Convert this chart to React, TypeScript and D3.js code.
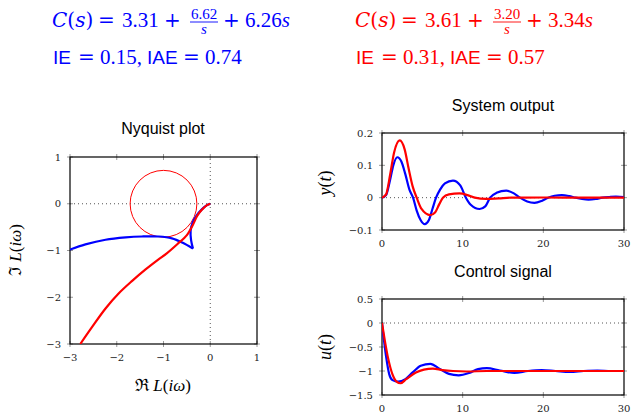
import React from 'react'
import * as d3 from 'd3'

const BLUE = '#0000ff'
const RED = '#ff0000'
const SERIF = "'Liberation Serif','DejaVu Serif',serif"
const WIDESERIF = "'DejaVu Serif',serif"
const TICKFONT = "'DejaVu Serif',serif"
const SANS = "'Liberation Sans',Arial,sans-serif"

// controller parameters shown in the header
const blueGains = ['3.31', '6.62', '6.26']
const redGains = ['3.61', '3.20', '3.34']
const blueErr = ['0.15,', '0.74']
const redErr = ['0.31,', '0.57']

// Nyquist curves [Re, Im]
const nyqBlueOuter: [number, number][] = [
  [-3, -0.98], [-2.67, -0.87], [-2.24, -0.77], [-1.81, -0.72], [-1.46, -0.7],
  [-1.1, -0.7], [-0.82, -0.74], [-0.6, -0.83], [-0.37, -0.96],
]
const nyqBlueInner: [number, number][] = [
  [-0.37, -0.96], [-0.41, -0.78], [-0.42, -0.58], [-0.38, -0.41], [-0.29, -0.25],
  [-0.18, -0.12], [-0.07, -0.03], [0, 0],
]
const nyqRed: [number, number][] = [
  [-2.78, -3.0], [-2.53, -2.64], [-2.24, -2.24], [-1.96, -1.92], [-1.67, -1.65],
  [-1.39, -1.41], [-1.12, -1.2], [-0.93, -1.06], [-0.7, -0.86], [-0.5, -0.67],
  [-0.37, -0.45], [-0.28, -0.26], [-0.18, -0.13], [-0.07, -0.03], [0, 0],
]
const msCircle = { re: -1, im: 0, r: 0.714 }

// system output y(t)
const yBlue: [number, number][] = [
  [0, 0], [0.5, 0.008], [1.0, 0.055], [1.4, 0.1], [1.9, 0.125], [2.4, 0.112],
  [2.9, 0.072], [3.4, 0.025], [3.85, 0], [4.3, -0.04], [4.8, -0.07], [5.3, -0.082],
  [5.8, -0.07], [6.25, -0.035], [6.7, 0], [7.2, 0.025], [7.8, 0.044], [8.8, 0.053],
  [9.7, 0.038], [10.4, 0], [11.0, -0.022], [12.1, -0.035], [12.8, -0.027], [13.4, 0],
  [14.2, 0.015], [15.4, 0.022], [16.3, 0.014], [17.1, 0], [18, -0.012], [18.9, -0.016],
  [19.8, -0.01], [20.6, 0], [21.4, 0.006], [22.3, 0.008], [23.2, 0.005], [24, 0],
  [24.8, -0.004], [25.6, -0.006], [26.5, -0.004], [27.3, 0], [28.2, 0.002], [29, 0.003],
  [30, 0.002],
]
const yRed: [number, number][] = [
  [0, 0], [0.5, 0.01], [1.0, 0.07], [1.5, 0.14], [2.2, 0.177], [2.8, 0.15],
  [3.3, 0.09], [3.8, 0.035], [4.3, 0], [4.9, -0.035], [5.97, -0.054], [6.6, -0.045],
  [7.1, -0.02], [7.55, 0], [8.3, 0.01], [9.6, 0.013], [10.6, 0.008], [11.5, 0],
  [12.9, -0.004], [14.5, -0.002], [16, 0], [20, 0.0005], [25, 0], [30, 0],
]

// control signal u(t)
const uBlue: [number, number][] = [
  [0, 0], [0.5, -0.69], [0.9, -1.07], [1.3, -1.19], [2.0, -1.22], [2.9, -1.17],
  [3.8, -1.03], [4.8, -0.89], [6.0, -0.85], [7.1, -0.95], [8.3, -1.06], [9.5, -1.09],
  [10.8, -1.04], [11.9, -0.96], [13.0, -0.94], [14.6, -0.99], [16.4, -1.04],
  [18.1, -1.0], [19.8, -0.98], [21.5, -1.0], [23.3, -1.02], [25, -1.0], [26.7, -0.99],
  [28.4, -1.0], [30, -1.0],
]
const uRed: [number, number][] = [
  [0, 0], [0.7, -0.69], [1.3, -1.07], [1.8, -1.22], [2.3, -1.255], [3.0, -1.17],
  [4.2, -1.03], [5.2, -0.97], [6.3, -0.95], [7.5, -0.98], [8.8, -1.0], [10.5, -1.01],
  [13, -1.0], [30, -1.0],
]

const nyqTicks = [-3, -2, -1, 0, 1]
const tTicks = [0, 10, 20, 30]
const yTicks = [-0.1, 0, 0.1, 0.2]
const uTicks = [-1.5, -1, -0.5, 0, 0.5]

const fmt = (v: number) => d3.format('')(v)

function Frame({ x, y, xTicks, yTicks, hDot, vDot }: any) {
  const [x0, x1] = x.range()
  const [y0, y1] = y.range()
  return (
    <g>
      {hDot && <line x1={x0} x2={x1} y1={y(0)} y2={y(0)} stroke="#555" strokeDasharray="1,3" />}
      {vDot && <line x1={x(0)} x2={x(0)} y1={y0} y2={y1} stroke="#555" strokeDasharray="1,3" />}
      {xTicks.map((t: number) => (
        <g key={'x' + t}>
          <line x1={x(t)} x2={x(t)} y1={y0 - 3} y2={y0 + 3} stroke="#999" />
          <line x1={x(t)} x2={x(t)} y1={y1 - 3} y2={y1 + 3} stroke="#999" />
          <text x={x(t)} y={y0 + 17} textAnchor="middle" fontFamily={TICKFONT} fontSize={10} fill="#222">{fmt(t)}</text>
        </g>
      ))}
      {yTicks.map((t: number) => (
        <g key={'y' + t}>
          <line x1={x0 - 3} x2={x0 + 3} y1={y(t)} y2={y(t)} stroke="#999" />
          <line x1={x1 - 3} x2={x1 + 3} y1={y(t)} y2={y(t)} stroke="#999" />
          <text x={x0 - 9} y={y(t) + 3.5} textAnchor="end" fontFamily={TICKFONT} fontSize={10} fill="#222">{fmt(t)}</text>
        </g>
      ))}
      <rect x={x0} y={y1} width={x1 - x0} height={y0 - y1} fill="none" stroke="#000" strokeWidth={1.2} />
    </g>
  )
}

function Formula({ x0, color, gains, err }: any) {
  const base = 27
  const base2 = 64
  return (
    <g fill={color} fontFamily={SERIF}>
      <text x={x0} y={base} fontSize={20} fontFamily={WIDESERIF} fontStyle="italic">
        C<tspan fontStyle="normal">(</tspan>s<tspan fontStyle="normal">)</tspan>
      </text>
      <text x={x0 + 46} y={base} fontSize={20} fontFamily={WIDESERIF}>=</text>
      <text x={x0 + 70} y={base} fontSize={21}>{gains[0]}</text>
      <text x={x0 + 112} y={base} fontSize={20} fontFamily={WIDESERIF}>+</text>
      <text x={x0 + 152} y={18.5} fontSize={15} textAnchor="middle">{gains[1]}</text>
      <line x1={x0 + 138} x2={x0 + 166} y1={22} y2={22} stroke={color} strokeWidth={0.9} />
      <text x={x0 + 152} y={34} fontSize={15} textAnchor="middle" fontStyle="italic">s</text>
      <text x={x0 + 171} y={base} fontSize={20} fontFamily={WIDESERIF}>+</text>
      <text x={x0 + 193} y={base} fontSize={21}>
        {gains[2]}<tspan fontStyle="italic">s</tspan>
      </text>
      <text x={x0 + 1} y={base2} fontSize={19} fontFamily={SANS}>IE</text>
      <text x={x0 + 26} y={base2} fontSize={20} fontFamily={WIDESERIF}>=</text>
      <text x={x0 + 48} y={base2} fontSize={21}>{err[0]}</text>
      <text x={x0 + 95} y={base2} fontSize={19} fontFamily={SANS}>IAE</text>
      <text x={x0 + 131} y={base2} fontSize={20} fontFamily={WIDESERIF}>=</text>
      <text x={x0 + 153} y={base2} fontSize={21}>{err[1]}</text>
    </g>
  )
}

export default function App() {
  const W = 643
  const H = 416

  const nx = d3.scaleLinear().domain([-3, 1]).range([70, 257])
  const ny = d3.scaleLinear().domain([-3, 1]).range([344, 157])
  const nLine = d3.line<[number, number]>().x(d => nx(d[0])).y(d => ny(d[1])).curve(d3.curveCatmullRom)

  const tx = d3.scaleLinear().domain([0, 30]).range([382, 624])
  const yy = d3.scaleLinear().domain([-0.1, 0.2]).range([230, 133])
  const uy = d3.scaleLinear().domain([-1.5, 0.5]).range([395, 299])
  const yLine = d3.line<[number, number]>().x(d => tx(d[0])).y(d => yy(d[1])).curve(d3.curveMonotoneX)
  const uLine = d3.line<[number, number]>().x(d => tx(d[0])).y(d => uy(d[1])).curve(d3.curveMonotoneX)

  return (
    <svg width={W} height={H} style={{ position: 'absolute', left: 0, top: 0, background: '#fff' }}>
      <Formula x0={52} color={BLUE} gains={blueGains} err={blueErr} />
      <Formula x0={355} color={RED} gains={redGains} err={redErr} />

      {/* Nyquist plot */}
      <text x={163} y={134} textAnchor="middle" fontFamily={SANS} fontSize={16}>Nyquist plot</text>
      <Frame x={nx} y={ny} xTicks={nyqTicks} yTicks={nyqTicks} hDot vDot />
      <defs>
        <clipPath id="nclip"><rect x={70} y={157} width={187} height={187} /></clipPath>
        <clipPath id="tclip1"><rect x={382} y={133} width={242} height={97} /></clipPath>
        <clipPath id="tclip2"><rect x={382} y={299} width={242} height={96} /></clipPath>
      </defs>
      <g clipPath="url(#nclip)" fill="none">
        <circle cx={nx(msCircle.re)} cy={ny(msCircle.im)} r={nx(msCircle.re + msCircle.r) - nx(msCircle.re)} stroke={RED} strokeWidth={1} />
        <path d={nLine(nyqBlueOuter) || ''} stroke={BLUE} strokeWidth={2.2} />
        <path d={nLine(nyqBlueInner) || ''} stroke={BLUE} strokeWidth={2.2} />
        <path d={nLine(nyqRed) || ''} stroke={RED} strokeWidth={2.2} />
      </g>
      <text x={163} y={391} textAnchor="middle" fontFamily={SERIF} fontSize={17}>
        ℜ <tspan fontStyle="italic">L</tspan>(<tspan fontStyle="italic">iω</tspan>)
      </text>
      <text transform="translate(21,250) rotate(-90)" textAnchor="middle" fontFamily={SERIF} fontSize={17}>
        ℑ <tspan fontStyle="italic">L</tspan>(<tspan fontStyle="italic">iω</tspan>)
      </text>

      {/* System output */}
      <text x={503} y={111} textAnchor="middle" fontFamily={SANS} fontSize={16}>System output</text>
      <Frame x={tx} y={yy} xTicks={tTicks} yTicks={yTicks} hDot />
      <g clipPath="url(#tclip1)" fill="none">
        <path d={yLine(yBlue) || ''} stroke={BLUE} strokeWidth={2.2} />
        <path d={yLine(yRed) || ''} stroke={RED} strokeWidth={2.2} />
      </g>
      <text transform="translate(331,183) rotate(-90)" textAnchor="middle" fontFamily={SERIF} fontSize={18} fontStyle="italic">
        y<tspan fontStyle="normal">(</tspan>t<tspan fontStyle="normal">)</tspan>
      </text>

      {/* Control signal */}
      <text x={503} y={277} textAnchor="middle" fontFamily={SANS} fontSize={16}>Control signal</text>
      <Frame x={tx} y={uy} xTicks={tTicks} yTicks={uTicks} hDot />
      <g clipPath="url(#tclip2)" fill="none">
        <path d={uLine(uBlue) || ''} stroke={BLUE} strokeWidth={2.2} />
        <path d={uLine(uRed) || ''} stroke={RED} strokeWidth={2.2} />
      </g>
      <text transform="translate(331,347) rotate(-90)" textAnchor="middle" fontFamily={SERIF} fontSize={18} fontStyle="italic">
        u<tspan fontStyle="normal">(</tspan>t<tspan fontStyle="normal">)</tspan>
      </text>
    </svg>
  )
}
